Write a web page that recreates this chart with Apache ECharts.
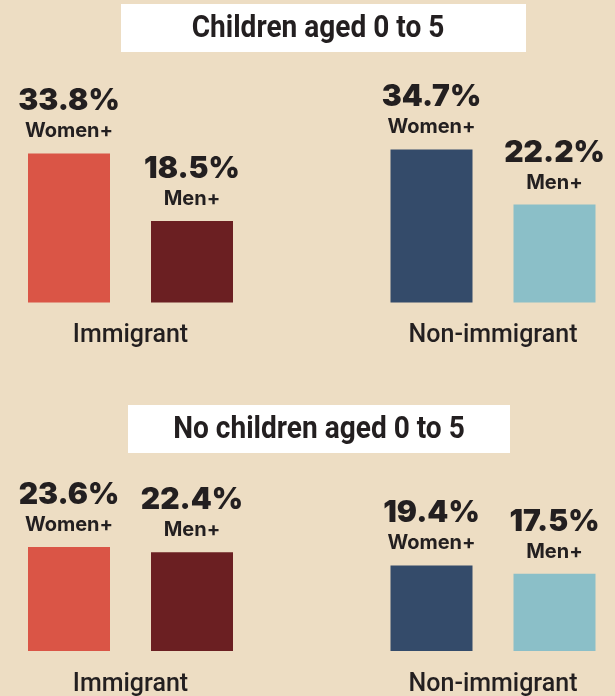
<!DOCTYPE html>
<html>
<head>
<meta charset="utf-8">
<script src="https://cdn.jsdelivr.net/npm/echarts@6/dist/echarts.min.js"></script>
<style>
html,body{margin:0;padding:0;background:#EDDDC3;}
#chart{width:615px;height:696px;}
</style>
</head>
<body>
<div id="chart"></div>
<script>
// ---- data ----
var groups = ['Immigrant', 'Non-immigrant'];
var seriesNames = ['Women+', 'Men+'];
var panelTitles = ['Children aged 0 to 5', 'No children aged 0 to 5'];
var withChildrenWomen = [33.8, 34.7];
var withChildrenMen = [18.5, 22.2];
var noChildrenWomen = [23.6, 19.4];
var noChildrenMen = [22.4, 17.5];

// ---- styles ----
var womenColors = ['#DA5546', '#344B6A'];
var menColors = ['#6B1F22', '#8BBFC8'];
var ink = '#231F20';
var grotesk = 'Roboto, "Liberation Sans", sans-serif';
var geo = 'Inter, Lato, "Noto Sans", sans-serif';

var chart = echarts.init(document.getElementById('chart'), null, {renderer: 'canvas'});

var grids = [
  {left: -50.75, width: 725, top: 126.1, height: 176.4, containLabel: false, outerBoundsMode: 'none'},
  {left: -50.75, width: 725, top: 474.6, height: 176.4, containLabel: false, outerBoundsMode: 'none'}
];

function labelCfg() {
  return {
    show: true,
    position: 'top',
    distance: 11,
    formatter: function (p) {
      return '{v|' + p.value.toFixed(1) + '%}\n{s|' + p.seriesName + '}';
    },
    rich: {
      v: {fontFamily: geo, fontWeight: 900, fontSize: 30, lineHeight: 38, color: ink},
      s: {fontFamily: geo, fontWeight: 700, fontSize: 20, lineHeight: 22, color: ink}
    }
  };
}

function makeSeries(name, values, colors, idx) {
  return {
    type: 'bar',
    name: name,
    xAxisIndex: idx,
    yAxisIndex: idx,
    data: values,
    barWidth: 82,
    barGap: '50%',
    itemStyle: {color: function (p) { return colors[p.dataIndex]; }},
    label: labelCfg(),
    silent: true,
    animation: false
  };
}

var xAxes = grids.map(function (g, i) {
  return {
    type: 'category',
    gridIndex: i,
    data: groups,
    axisLine: {show: false},
    axisTick: {show: false},
    axisLabel: {fontFamily: grotesk, fontWeight: 500, fontSize: 25, color: ink, margin: 21}
  };
});
var yAxes = grids.map(function (g, i) {
  return {type: 'value', gridIndex: i, min: 0, max: 40, show: false, splitLine: {show: false}};
});

var titleBoxes = [
  {x: 121, y: 4, w: 405, h: 48, cx: 318},
  {x: 128, y: 405, w: 382, h: 48, cx: 319}
];
var graphics = [];
titleBoxes.forEach(function (b, i) {
  graphics.push({type: 'rect', shape: {x: b.x, y: b.y, width: b.w, height: b.h}, style: {fill: '#FFFFFF'}, silent: true});
  graphics.push({type: 'text', x: b.cx, y: b.y + b.h / 2 + 1, scaleX: 0.905, style: {
    text: panelTitles[i], fill: ink, font: 'bold 31px ' + grotesk, textAlign: 'center', textVerticalAlign: 'middle'
  }, silent: true});
});

chart.setOption({
  backgroundColor: '#EDDDC3',
  animation: false,
  grid: grids,
  xAxis: xAxes,
  yAxis: yAxes,
  graphic: graphics,
  series: [
    makeSeries(seriesNames[0], withChildrenWomen, womenColors, 0),
    makeSeries(seriesNames[1], withChildrenMen, menColors, 0),
    makeSeries(seriesNames[0], noChildrenWomen, womenColors, 1),
    makeSeries(seriesNames[1], noChildrenMen, menColors, 1)
  ]
});
</script>
</body>
</html>
